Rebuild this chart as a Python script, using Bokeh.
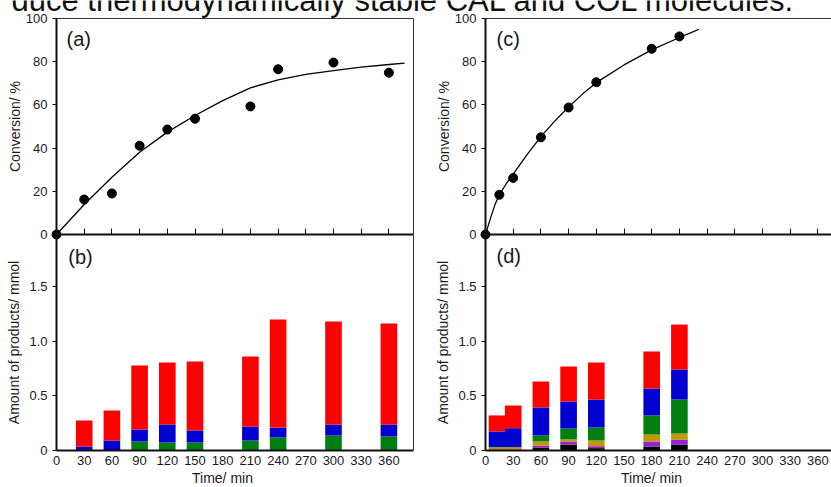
from bokeh.plotting import figure
from bokeh.models import Range1d, LinearAxis, FixedTicker, Label, ColumnDataSource
from bokeh.embed import file_html
from bokeh.resources import INLINE

# ---------------- data ----------------
# (a) conversion vs time
time_a = [0, 30, 60, 90, 120, 150, 210, 240, 300, 360]
conv_a = [0, 16.2, 19.0, 41.1, 48.6, 53.6, 59.3, 76.5, 79.6, 74.9]
fit_time_a = [0, 30, 60, 90, 120, 150, 180, 210, 240, 270, 300, 330, 360, 377]
fit_conv_a = [0, 13.9, 26.5, 38.1, 47.4, 55.1, 62.0, 67.9, 71.6, 74.1, 75.9, 77.5, 78.7, 79.3]

# (b) amount of products (mmol), stacked bottom -> top
time_b = [30, 60, 90, 120, 150, 210, 240, 300, 360]
green_b = [0, 0, 0.078, 0.069, 0.069, 0.087, 0.115, 0.133, 0.124]
blue_b = [0.032, 0.087, 0.110, 0.165, 0.110, 0.129, 0.091, 0.101, 0.110]
red_b = [0.238, 0.275, 0.587, 0.569, 0.633, 0.642, 0.991, 0.945, 0.927]

# (c) conversion vs time
time_c = [0, 15, 30, 60, 90, 120, 180, 210]
conv_c = [0, 18.4, 26.2, 45.0, 58.8, 70.5, 86.0, 91.7]
fit_time_c = [0, 5, 10, 15, 22.5, 30, 45, 60, 75, 90, 105, 120, 150, 180, 210, 231]
fit_conv_c = [0, 7.0, 13.5, 18.5, 23.5, 28.0, 37.0, 45.3, 52.5, 59.0, 65.0, 70.3, 78.5, 85.5, 91.2, 95.0]

# (d) amount of products (mmol), stacked bottom -> top
time_d = [12.5, 30, 60, 90, 120, 180, 210]
black_d = [0, 0, 0.023, 0.050, 0.017, 0.032, 0.050]
purple_d = [0.007, 0.007, 0.018, 0.028, 0.018, 0.046, 0.046]
gold_d = [0.019, 0.019, 0.038, 0.019, 0.052, 0.064, 0.055]
green_d = [0, 0, 0.054, 0.100, 0.119, 0.175, 0.312]
blue_d = [0.144, 0.174, 0.257, 0.248, 0.257, 0.247, 0.276]
red_d = [0.147, 0.208, 0.238, 0.321, 0.340, 0.340, 0.412]

time_ticks = list(range(0, 361, 30))
conv_ticks = [0, 20, 40, 60, 80, 100]
amount_ticks = [0, 0.5, 1.0, 1.5]

# ---------------- layout constants ----------------
W, H = 831, 487
PXMIN = 27.7 / 30.0          # pixels per minute
XL0, XR0 = 56, 485           # x pixel of t=0 (left / right column)
AM0, AMPX = 449.5, 109.0     # y pixel of amount 0, px per mmol
CV0, CVPX = 234.0, 2.16      # y pixel of conversion 0, px per %
XMAX_L = (413 - XL0) / PXMIN     # right border of left panels (min)
XMAX_R = (830.5 - XR0) / PXMIN   # right border of right panels (min)
AMAX = (AM0 - CV0) / AMPX        # top of amount panels (mmol)
FONT = "Liberation Sans"
TXT = "#1a1a1a"

p = figure(width=W, height=H,
           x_range=Range1d(-XL0 / PXMIN, (W - XL0) / PXMIN),
           y_range=Range1d(-(H - AM0) / AMPX, AM0 / AMPX),
           x_axis_type=None, y_axis_type=None,
           output_backend="svg", toolbar_location=None,
           min_border=0, outline_line_color=None)
p.title.visible = False
p.extra_x_ranges = {"xr": Range1d(-XR0 / PXMIN, (W - XR0) / PXMIN)}
p.extra_y_ranges = {"conv": Range1d(-(H - CV0) / CVPX, CV0 / CVPX)}
p.styles = {"position": "absolute", "left": "0px", "top": "0px"}


def axis(side, ticks=(), minor=(), **kw):
    ax = LinearAxis(ticker=FixedTicker(ticks=list(ticks), minor_ticks=list(minor)),
                    major_label_text_font=FONT, major_label_text_font_size="13px",
                    major_label_text_color=TXT,
                    axis_label_text_font=FONT, axis_label_text_font_size="14px",
                    axis_label_text_font_style="normal", axis_label_text_color=TXT,
                    minor_tick_in=0, minor_tick_out=0, major_tick_in=0, major_tick_out=0,
                    axis_line_color="#111111", major_tick_line_color="#111111",
                    minor_tick_line_color="#111111")
    for k, v in kw.items():
        setattr(ax, k, v)
    p.add_layout(ax, side)
    return ax


for xn, xmax in (("default", XMAX_L), ("xr", XMAX_R)):
    # conversion panel
    axis("left", conv_ticks, x_range_name=xn, y_range_name="conv", fixed_location=0,
         bounds=(0, 100), axis_label="Conversion/ %", major_tick_out=4,
         axis_line_width=2, major_label_standoff=5, axis_label_standoff=0)
    axis("above", x_range_name=xn, y_range_name="conv", fixed_location=100,
         bounds=(0, xmax), axis_line_width=1, axis_line_color="#333333")
    axis("right", x_range_name=xn, y_range_name="conv", fixed_location=xmax,
         bounds=(0, 100), axis_line_width=1, axis_line_color="#333333")
    # boundary between panels: inward (upward) tick marks, no labels
    axis("below", minor=time_ticks, x_range_name=xn, y_range_name="conv", fixed_location=0,
         bounds=(0, xmax), axis_line_width=2, minor_tick_in=6)
    # amount panel
    axis("left", amount_ticks, x_range_name=xn, fixed_location=0,
         bounds=(0, AMAX), axis_label="Amount of products/ mmol", major_tick_out=4,
         axis_line_width=2, major_label_standoff=5, axis_label_standoff=4,
         major_label_overrides={0: "0", 0.5: "0.5", 1: "1.0", 1.5: "1.5"})
    axis("right", x_range_name=xn, fixed_location=xmax, bounds=(0, AMAX),
         axis_line_width=1, axis_line_color="#333333")
    axis("below", x_range_name=xn, fixed_location=0, bounds=(0, xmax), axis_line_width=2)
    axis("below", time_ticks, x_range_name=xn, fixed_location=0, bounds=(0, 360),
         axis_line_color=None, major_tick_line_color=None, major_label_standoff=6,
         axis_label="Time/ min", axis_label_standoff=1)

# (b) stacked bars
src_b = ColumnDataSource(dict(t=time_b, green=green_b, blue=blue_b, red=red_b))
p.vbar_stack(["green", "blue", "red"], x="t", width=18, source=src_b,
             color=["#007f10", "#0000d0", "#ff0000"], line_color=None)

# (d) stacked bars
src_d = ColumnDataSource(dict(t=time_d, black=black_d, purple=purple_d, gold=gold_d,
                              green=green_d, blue=blue_d, red=red_d))
p.vbar_stack(["black", "purple", "gold", "green", "blue", "red"], x="t", width=18,
             source=src_d, x_range_name="xr",
             color=["#000000", "#9a20d0", "#c09800", "#007f10", "#0000d0", "#ff0000"],
             line_color=None)

# (a) & (c) conversion curves and points
p.line(fit_time_a, fit_conv_a, y_range_name="conv", line_color="black", line_width=1.3)
p.scatter(time_a, conv_a, y_range_name="conv", size=9, color="black")
p.line(fit_time_c, fit_conv_c, x_range_name="xr", y_range_name="conv",
       line_color="black", line_width=1.3)
p.scatter(time_c, conv_c, x_range_name="xr", y_range_name="conv", size=9, color="black")

# panel letters
for txt, xn, yn, x, y in [("(a)", "default", "conv", 10.8, 90.6),
                          ("(b)", "default", "default", 12.7, 1.772),
                          ("(c)", "xr", "conv", 11.9, 90.6),
                          ("(d)", "xr", "default", 11.9, 1.784)]:
    p.add_layout(Label(x=x, y=y, x_range_name=xn, y_range_name=yn, text=txt,
                       text_font=FONT, text_font_size="20px", text_color=TXT,
                       text_align="left", text_baseline="middle"))

# clipped caption line at the very top (cut off in the source image too)
p.add_layout(Label(x=795, y=H, x_units="screen", y_units="screen",
                   text="duce thermodynamically stable CAL and COL molecules.",
                   text_font=FONT, text_font_size="31px", text_color="#111111",
                   text_align="right", text_baseline="alphabetic"))

open("out.html", "w").write(file_html(p, INLINE))
